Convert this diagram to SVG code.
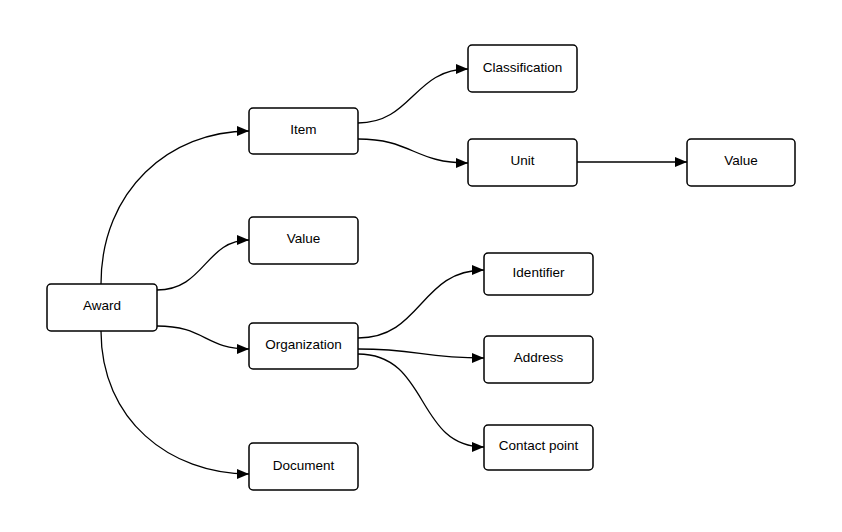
<svg xmlns="http://www.w3.org/2000/svg" width="842" height="532" viewBox="0 0 842 532">
<style>
.box{fill:#fff;stroke:#000;stroke-width:1.5}
.lbl{font-family:"Liberation Sans",Arial,sans-serif;font-size:13.5px;fill:#000;text-anchor:middle;dominant-baseline:central}
.edge{fill:none;stroke:#000;stroke-width:1.3;marker-end:url(#arr)}
</style>
<defs>
<marker id="arr" viewBox="0 0 12 10" refX="12" refY="5" markerWidth="12" markerHeight="10" markerUnits="userSpaceOnUse" orient="auto">
<path d="M0,0 L12,5 L0,10 z" fill="#000"/>
</marker>
</defs>
<rect width="842" height="532" fill="#fff"/>
<g id="connectors">
<path class="edge" d="M101,284 C101,190 170,131 249,131"/>
<path class="edge" d="M157,290 C205,290 205,240 249,240"/>
<path class="edge" d="M157,326 C205,326 205,349 249,349"/>
<path class="edge" d="M101,331 C101,420 170,474 249,474"/>
<path class="edge" d="M358,123 C412,123 414,69 468,69"/>
<path class="edge" d="M358,139 C412,139 414,163 468,163"/>
<path class="edge" d="M577,162 L687,162"/>
<path class="edge" d="M358,338 C422,338 420,270 484,270"/>
<path class="edge" d="M358,349 C420,349 420,358 484,358"/>
<path class="edge" d="M358,354 C430,354 415,447 484,447"/>
</g>
<g id="award"><rect class="box" x="47" y="284" width="110" height="47" rx="4"/><text class="lbl" x="102" y="305.5">Award</text></g>
<g id="item"><rect class="box" x="249" y="108" width="109" height="46" rx="4"/><text class="lbl" x="303.5" y="129">Item</text></g>
<g id="value1"><rect class="box" x="249" y="217" width="109" height="47" rx="4"/><text class="lbl" x="303.5" y="238">Value</text></g>
<g id="organization"><rect class="box" x="249" y="323" width="109" height="46" rx="4"/><text class="lbl" x="303.5" y="344">Organization</text></g>
<g id="document"><rect class="box" x="249" y="443" width="109" height="47" rx="4"/><text class="lbl" x="303.5" y="465">Document</text></g>
<g id="classification"><rect class="box" x="468" y="45" width="109" height="47" rx="4"/><text class="lbl" x="522.5" y="67">Classification</text></g>
<g id="unit"><rect class="box" x="468" y="139" width="109" height="47" rx="4"/><text class="lbl" x="522.5" y="160">Unit</text></g>
<g id="value2"><rect class="box" x="687" y="139" width="108" height="47" rx="4"/><text class="lbl" x="741" y="160">Value</text></g>
<g id="identifier"><rect class="box" x="484" y="253" width="109" height="42" rx="4"/><text class="lbl" x="538.5" y="272">Identifier</text></g>
<g id="address"><rect class="box" x="484" y="336" width="109" height="47" rx="4"/><text class="lbl" x="538.5" y="357">Address</text></g>
<g id="contact"><rect class="box" x="484" y="425" width="109" height="45" rx="4"/><text class="lbl" x="538.5" y="445">Contact point</text></g>
</svg>
